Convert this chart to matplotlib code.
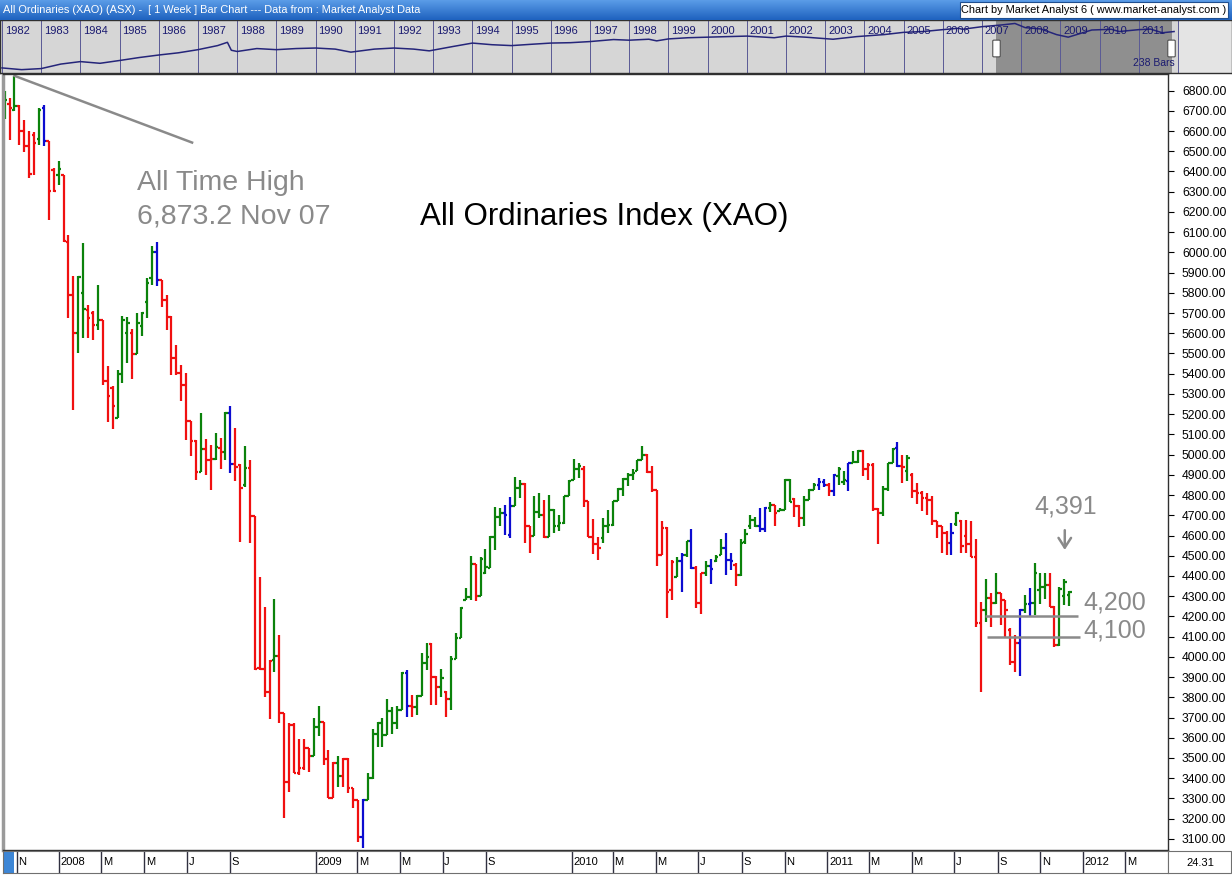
import numpy as np
import matplotlib
matplotlib.use("Agg")
import matplotlib.pyplot as plt
import matplotlib.dates as mdates
import matplotlib.transforms as mtransforms
from matplotlib.patches import Rectangle, FancyBboxPatch

plt.rcParams["font.family"] = ["Liberation Sans", "DejaVu Sans"]

W, H = 1232, 876

# weekly OHLC of the All Ordinaries, first bar = week of 15 Oct 2007
first_week = np.datetime64("2007-10-15")

opens = [
    6714, 6734, 6706, 6722, 6599, 6524, 6580, 6560, 6714, 6549,
    6409, 6384, 6384, 6050, 5791, 5600, 5800, 5716, 5700, 5642,
    5667, 5362, 5330, 5180, 5400, 5600, 5600, 5499, 5634, 5753,
    5873, 6000, 5861, 5766, 5680, 5477, 5403, 5345, 5164, 5065,
    4912, 5027, 4974, 4978, 5035, 5015, 5208, 4953, 4949, 4850,
    4933, 4697, 3945, 3939, 3828, 3985, 4005, 3724, 3383, 3663,
    3427, 3449, 3548, 3510, 3652, 3680, 3494, 3301, 3477, 3411,
    3494, 3350, 3293, 3111, 3293, 3400, 3619, 3672, 3614, 3730,
    3672, 3735, 3922, 3758, 3751, 3807, 3969, 4065, 3900, 3850,
    3824, 3791, 3989, 4093, 4282, 4296, 4461, 4302, 4414, 4439,
    4592, 4691, 4711, 4604, 4747, 4835, 4856, 4645, 4599, 4714,
    4702, 4592, 4727, 4648, 4661, 4793, 4876, 4928, 4928, 4773,
    4592, 4560, 4587, 4645, 4653, 4773, 4829, 4879, 4900, 4917,
    4975, 4999, 4912, 4826, 4505, 4637, 4330, 4394, 4472, 4505,
    4571, 4439, 4265, 4414, 4447, 4472, 4505, 4538, 4480, 4455,
    4406, 4570, 4645, 4678, 4645, 4632, 4735, 4752, 4719, 4727,
    4876, 4780, 4744, 4686, 4777, 4826, 4851, 4867, 4851, 4818,
    4892, 4867, 4870, 4958, 4965, 5016, 4928, 4950, 4731, 4711,
    4829, 4958, 5035, 4945, 4920, 4900, 4818, 4810, 4785, 4777,
    4670, 4645, 4612, 4562, 4658, 4670, 4600, 4560, 4496, 4167,
    4233, 4290, 4265, 4318, 4279, 4134, 3977, 4068, 4233, 4262,
    4265, 4330, 4345, 4356, 4249, 4059, 4300, 4307,
]
highs = [
    6800, 6764, 6873, 6727, 6656, 6599, 6595, 6714, 6727, 6549,
    6417, 6454, 6384, 6087, 5881, 5881, 6046, 5741, 5708, 5837,
    5667, 5436, 5340, 5419, 5683, 5680, 5621, 5700, 5703, 5873,
    6033, 6049, 5865, 5790, 5683, 5543, 5444, 5406, 5164, 5070,
    5205, 5076, 5048, 5106, 5081, 5213, 5241, 5131, 4953, 5043,
    4974, 4697, 4397, 4249, 3985, 4285, 4108, 3724, 3671, 3671,
    3592, 3592, 3548, 3696, 3757, 3680, 3540, 3482, 3510, 3499,
    3499, 3350, 3293, 3296, 3428, 3642, 3680, 3697, 3790, 3751,
    3758, 3927, 3936, 3812, 3812, 4018, 4071, 4068, 3903, 3939,
    3829, 4002, 4118, 4249, 4340, 4497, 4461, 4494, 4533, 4596,
    4741, 4736, 4752, 4790, 4889, 4873, 4860, 4645, 4793, 4810,
    4777, 4801, 4731, 4703, 4793, 4876, 4978, 4958, 4942, 4773,
    4681, 4595, 4686, 4727, 4773, 4834, 4884, 4909, 4928, 4975,
    5044, 5004, 4942, 4826, 4670, 4641, 4477, 4496, 4513, 4571,
    4632, 4450, 4414, 4472, 4483, 4505, 4582, 4612, 4513, 4463,
    4582, 4632, 4702, 4691, 4735, 4740, 4764, 4752, 4735, 4879,
    4879, 4785, 4752, 4793, 4829, 4859, 4884, 4879, 4859, 4905,
    4938, 4917, 4958, 5016, 5024, 5021, 4961, 4958, 4735, 4846,
    4958, 5032, 5060, 4999, 4999, 4909, 4862, 4818, 4810, 4793,
    4670, 4648, 4620, 4661, 4714, 4675, 4675, 4670, 4582, 4269,
    4384, 4315, 4417, 4318, 4282, 4142, 4109, 4236, 4307, 4340,
    4463, 4414, 4417, 4414, 4252, 4345, 4384, 4328,
]
lows = [
    6660, 6557, 6701, 6529, 6496, 6368, 6384, 6533, 6528, 6158,
    6299, 6335, 6050, 5675, 5222, 5502, 5576, 5576, 5568, 5618,
    5345, 5159, 5126, 5180, 5353, 5452, 5373, 5499, 5588, 5675,
    5840, 5835, 5729, 5617, 5395, 5395, 5263, 5070, 4991, 4875,
    4912, 4900, 4826, 4974, 4928, 4974, 4908, 4870, 4570, 4839,
    4565, 3935, 3935, 3803, 3691, 3927, 3671, 3201, 3333, 3424,
    3416, 3441, 3432, 3510, 3609, 3466, 3301, 3301, 3358, 3358,
    3326, 3251, 3086, 3053, 3293, 3395, 3556, 3556, 3614, 3619,
    3642, 3735, 3705, 3702, 3713, 3807, 3936, 3763, 3763, 3801,
    3705, 3738, 3989, 4093, 4282, 4282, 4274, 4302, 4411, 4439,
    4526, 4645, 4604, 4587, 4744, 4785, 4563, 4513, 4599, 4686,
    4587, 4592, 4612, 4620, 4658, 4793, 4876, 4884, 4740, 4592,
    4510, 4480, 4562, 4612, 4648, 4773, 4793, 4843, 4876, 4917,
    4975, 4909, 4813, 4450, 4505, 4191, 4282, 4394, 4323, 4496,
    4434, 4241, 4213, 4401, 4361, 4467, 4505, 4406, 4430, 4348,
    4401, 4560, 4632, 4642, 4615, 4615, 4714, 4645, 4719, 4724,
    4768, 4691, 4642, 4645, 4777, 4826, 4826, 4839, 4793, 4793,
    4851, 4851, 4818, 4958, 4961, 4892, 4876, 4719, 4559, 4698,
    4818, 4958, 4938, 4862, 4872, 4785, 4757, 4719, 4703, 4653,
    4587, 4513, 4505, 4505, 4645, 4516, 4513, 4496, 4150, 3824,
    4170, 4147, 4260, 4158, 4092, 3960, 3927, 3906, 4216, 4196,
    4208, 4262, 4285, 4246, 4048, 4054, 4257, 4252,
]
closes = [
    6752, 6714, 6722, 6599, 6524, 6388, 6540, 6706, 6549, 6302,
    6302, 6412, 6054, 5791, 5600, 5878, 5720, 5675, 5642, 5667,
    5362, 5290, 5240, 5400, 5667, 5650, 5499, 5650, 5700, 5848,
    6000, 5861, 5766, 5680, 5477, 5403, 5345, 5164, 5065, 4912,
    5027, 4974, 4978, 5037, 5015, 5208, 4953, 4941, 4834, 4933,
    4697, 3939, 3938, 3828, 3980, 4005, 3724, 3383, 3663, 3427,
    3449, 3548, 3510, 3652, 3680, 3494, 3301, 3477, 3411, 3494,
    3350, 3293, 3111, 3293, 3400, 3619, 3672, 3614, 3730, 3672,
    3735, 3922, 3758, 3751, 3807, 3969, 4000, 3900, 3850, 3895,
    3791, 3989, 4093, 4240, 4296, 4461, 4302, 4484, 4444, 4592,
    4691, 4711, 4703, 4747, 4835, 4856, 4645, 4599, 4714, 4702,
    4592, 4727, 4648, 4661, 4793, 4872, 4928, 4942, 4773, 4592,
    4560, 4538, 4645, 4653, 4773, 4829, 4879, 4900, 4909, 4971,
    4999, 4912, 4826, 4505, 4637, 4323, 4470, 4472, 4505, 4571,
    4439, 4265, 4414, 4447, 4434, 4496, 4538, 4480, 4472, 4406,
    4562, 4609, 4678, 4645, 4632, 4735, 4752, 4711, 4727, 4876,
    4768, 4744, 4686, 4777, 4826, 4851, 4867, 4851, 4818, 4900,
    4928, 4876, 4958, 4965, 5016, 4928, 4950, 4731, 4711, 4829,
    4958, 5027, 4945, 4940, 4985, 4818, 4810, 4785, 4777, 4670,
    4645, 4612, 4562, 4612, 4711, 4546, 4560, 4496, 4167, 4233,
    4290, 4265, 4318, 4279, 4233, 3977, 4068, 4233, 4262, 4265,
    4414, 4345, 4356, 4249, 4059, 4335, 4370, 4323,
]
# g = up (green), r = down (red), b = blue bars
bar_colours = (
    "grgrrrrgbrrgrrrggrrgrr"
    "rgggrggggbrrrrrrrrgrrg"
    "rgbrrgrrrrrgrrrrrrrgg"
    "rrrgrrrrbggggggggbrgg"
    "grrgrgggggrgggggbbggrr"
    "ggrgggggggrrrrggggggg"
    "ggrrrrrrgbgbrrgbggbbrg"
    "gggbbgrgggrrgggbbrbgg"
    "bggrrrrgggbrgrrrrrrrr"
    "bgrrrrrgrgrrrrbgbgggrrggg"
)

month_starts = [
    "2007-11-01", "2008-01-01", "2008-03-01", "2008-05-01", "2008-07-01", "2008-09-01",
    "2009-01-01", "2009-03-01", "2009-05-01", "2009-07-01", "2009-09-01",
    "2010-01-01", "2010-03-01", "2010-05-01", "2010-07-01", "2010-09-01", "2010-11-01",
    "2011-01-01", "2011-03-01", "2011-05-01", "2011-07-01", "2011-09-01", "2011-11-01",
    "2012-01-01", "2012-03-01",
]
month_labels = [
    "N", "2008", "M", "M", "J", "S",
    "2009", "M", "M", "J", "S",
    "2010", "M", "M", "J", "S", "N",
    "2011", "M", "M", "J", "S", "N",
    "2012", "M",
]
price_ticks = list(range(3100, 6801, 100))

# long term overview line in the navigator strip (year, index level)
nav_years = [1982.0, 1982.5, 1983.0, 1983.5, 1984.0, 1984.5, 1985.0, 1985.5, 1986.0, 1986.5,
             1987.0, 1987.5, 1987.75, 1987.85, 1988.0, 1988.5, 1989.0, 1989.5, 1990.0, 1990.5,
             1990.9, 1991.5, 1992.0, 1992.5, 1992.9, 1993.5, 1994.0, 1994.5, 1995.0, 1995.5,
             1996.0, 1996.5, 1997.0, 1997.6, 1998.0, 1998.5, 1998.7, 1999.0, 1999.5, 2000.0,
             2000.5, 2001.0, 2001.7, 2002.0, 2002.5, 2003.2, 2003.8, 2004.5, 2005.0, 2005.5,
             2006.0, 2006.4, 2006.5, 2007.0, 2007.5, 2007.84, 2008.1, 2008.5, 2008.9, 2009.2,
             2009.8, 2010.3, 2010.5, 2011.0, 2011.3, 2011.6, 2011.9]
nav_values = [520, 470, 500, 650, 750, 680, 800, 950, 1100, 1250,
              1500, 1900, 2300, 1450, 1350, 1600, 1500, 1600, 1650, 1550,
              1300, 1550, 1650, 1550, 1400, 1800, 2200, 2000, 1900, 2050,
              2200, 2250, 2400, 2700, 2600, 2750, 2500, 2800, 3000, 3100,
              3200, 3300, 3000, 3300, 3100, 2750, 3200, 3600, 4100, 4300,
              4800, 5200, 4900, 5700, 6300, 6870, 5400, 5000, 3600, 3100,
              4700, 4900, 4300, 4800, 4950, 4000, 4300]


def px_box(left, top, width, height):
    return [left / W, 1 - (top + height) / H, width / W, height / H]


def px_rect(left, top, width, height, **kw):
    return Rectangle((left / W, 1 - (top + height) / H), width / W, height / H,
                     transform=fig.transFigure, **kw)


n = len(opens)
dates = first_week + np.arange(n) * np.timedelta64(7, "D")
x = mdates.date2num(dates)
x0 = mdates.date2num(first_week)


def week_x(i):
    return x0 + 7 * i


palette = {"g": "#0b820b", "r": "#f01010", "b": "#0c0cd0"}
cols = [palette[c] for c in bar_colours]
hi = np.maximum.reduce([highs, opens, closes])
lo = np.minimum.reduce([lows, opens, closes])

fig = plt.figure(figsize=(W / 100, H / 100), dpi=100)
fig.patch.set_facecolor("white")

# ---- main price panel
ax = fig.add_axes(px_box(3, 74, 1165, 776))
ax.vlines(x, lo, hi, colors=cols, lw=1.6, capstyle="butt")
ax.hlines(opens, x - 3.4, x, colors=cols, lw=1.6, capstyle="butt")
ax.hlines(closes, x, x + 3.4, colors=cols, lw=1.6, capstyle="butt")
ax.set_xlim(x0 - 2.4, x0 + 1660)
ax.set_ylim(3045, 6882)
ax.set_xticks([])
ax.yaxis.tick_right()
ax.set_yticks(price_ticks)
ax.set_yticklabels([f"{v:.2f}" for v in price_ticks])
ax.tick_params(axis="y", direction="out", length=4, width=0.8, labelsize=8.7, pad=6)
ax.spines["left"].set_color("#9a9a9a")
ax.spines["left"].set_linewidth(2.5)
for s in ["right", "bottom", "top"]:
    ax.spines[s].set_color("#303030")
    ax.spines[s].set_linewidth(1)

grey = "#8a8a8a"
ax.plot([week_x(2), week_x(38.2)], [6873, 6543], color=grey, lw=1.8)
ax.text(week_x(26.9), 6345, "All Time High", color=grey, fontsize=20.5, va="center")
ax.text(week_x(26.9), 6175, "6,873.2 Nov 07", color=grey, fontsize=20.5, va="center")
ax.text(week_x(84.7), 6175, "All Ordinaries Index (XAO)", color="black", fontsize=22.5, va="center")

ax.text(week_x(210), 4742, "4,391", color=grey, fontsize=18, va="center")
ax.annotate("", xy=(week_x(216.1), 4515), xytext=(week_x(216.1), 4640),
            arrowprops=dict(arrowstyle="->,head_length=0.7,head_width=0.45", color=grey, lw=1.8))
ax.hlines([4200, 4100], [week_x(199.8), week_x(200.2)], [week_x(218.8), week_x(219.2)],
          colors=grey, lw=1.8)
ax.text(week_x(219.8), 4267, "4,200", color=grey, fontsize=18, va="center")
ax.text(week_x(219.8), 4129, "4,100", color=grey, fontsize=18, va="center")

# ---- time axis strip
axb = fig.add_axes(px_box(3, 851, 1165, 22))
axb.set_xlim(ax.get_xlim())
axb.set_ylim(0, 1)
axb.set_xticks([])
axb.set_yticks([])
for s in axb.spines.values():
    s.set_color("#707070")
    s.set_linewidth(0.8)
axb.add_patch(Rectangle((x0 - 2.4, 0), week_x(1.95) - x0 + 2.4, 1, color="#3d86d6", lw=0))
sep_x = mdates.date2num(np.array(month_starts, dtype="datetime64[D]"))
axb.vlines(sep_x, 0, 1, colors="#303040", lw=1)
for sx, lab in zip(sep_x, month_labels):
    axb.text(sx + 2.2, 0.5, lab, fontsize=8, va="center", ha="left")

fig.add_artist(px_rect(1168, 851, 63, 22, facecolor="white", edgecolor="#707070", lw=0.8))
fig.text(1200 / W, 1 - 863 / H, "24.31", fontsize=8, ha="center", va="center")

# ---- navigator strip
nav = fig.add_axes(px_box(0, 20, 1232, 53))
nav.set_facecolor("#d6d6d6")
nav.set_xlim(1982 - 2 / 39.2, 1982 + 1230 / 39.2)
nav.set_yscale("log")
nav.set_ylim(387, 8400)
nav.set_xticks([])
nav.set_yticks([])
nav.minorticks_off()
nav.axvspan(2007.36, 2011.85, color="#8f8f8f", lw=0)
nav.axvspan(2012.0, 2013.5, color="#e4e4e4", lw=0)
trans = mtransforms.blended_transform_factory(nav.transData, nav.transAxes)
for yr in range(1982, 2012):
    nav.axvline(yr, color="#5a5a96", lw=0.7)
    nav.text(yr + 0.07, 0.79, str(yr), transform=trans, fontsize=8, color="#1a1a70",
             va="center", ha="left")
nav.axvline(2012.0, color="#5a5a96", lw=0.7)
nav.plot(nav_years, nav_values, color="#25257a", lw=1.1)
nav.text(2010.85, 0.18, "238 Bars", transform=trans, fontsize=7.5, color="#1a1a70",
         va="center")
for s in nav.spines.values():
    s.set_color("#303030")
    s.set_linewidth(1)
for hx in (994, 1169):
    fig.add_artist(FancyBboxPatch((hx / W, 1 - 56 / H), 5 / W, 15 / H,
                                  boxstyle="round,pad=0.001", transform=fig.transFigure,
                                  facecolor="white", edgecolor="#505050", lw=0.8))

# ---- header bar
head = fig.add_axes(px_box(0, 0, 1232, 20))
head.imshow(np.linspace(0, 1, 20).reshape(-1, 1), aspect="auto",
            cmap=matplotlib.colors.LinearSegmentedColormap.from_list("hb", ["#5a9be6", "#1f63c0"]),
            extent=[0, 1, 0, 1], origin="upper")
head.set_axis_off()
fig.text(3 / W, 1 - 10 / H, "All Ordinaries (XAO) (ASX) -  [ 1 Week ] Bar Chart --- Data from : Market Analyst Data",
         color="white", fontsize=7.9, va="center", ha="left")
fig.add_artist(px_rect(960, 2, 268, 16, facecolor="white", edgecolor="#1f4f90", lw=0.8))
fig.text(1226 / W, 1 - 10 / H, "Chart by Market Analyst 6 ( www.market-analyst.com )",
         color="black", fontsize=7.9, va="center", ha="right")

fig.savefig("out.png", dpi=100)
